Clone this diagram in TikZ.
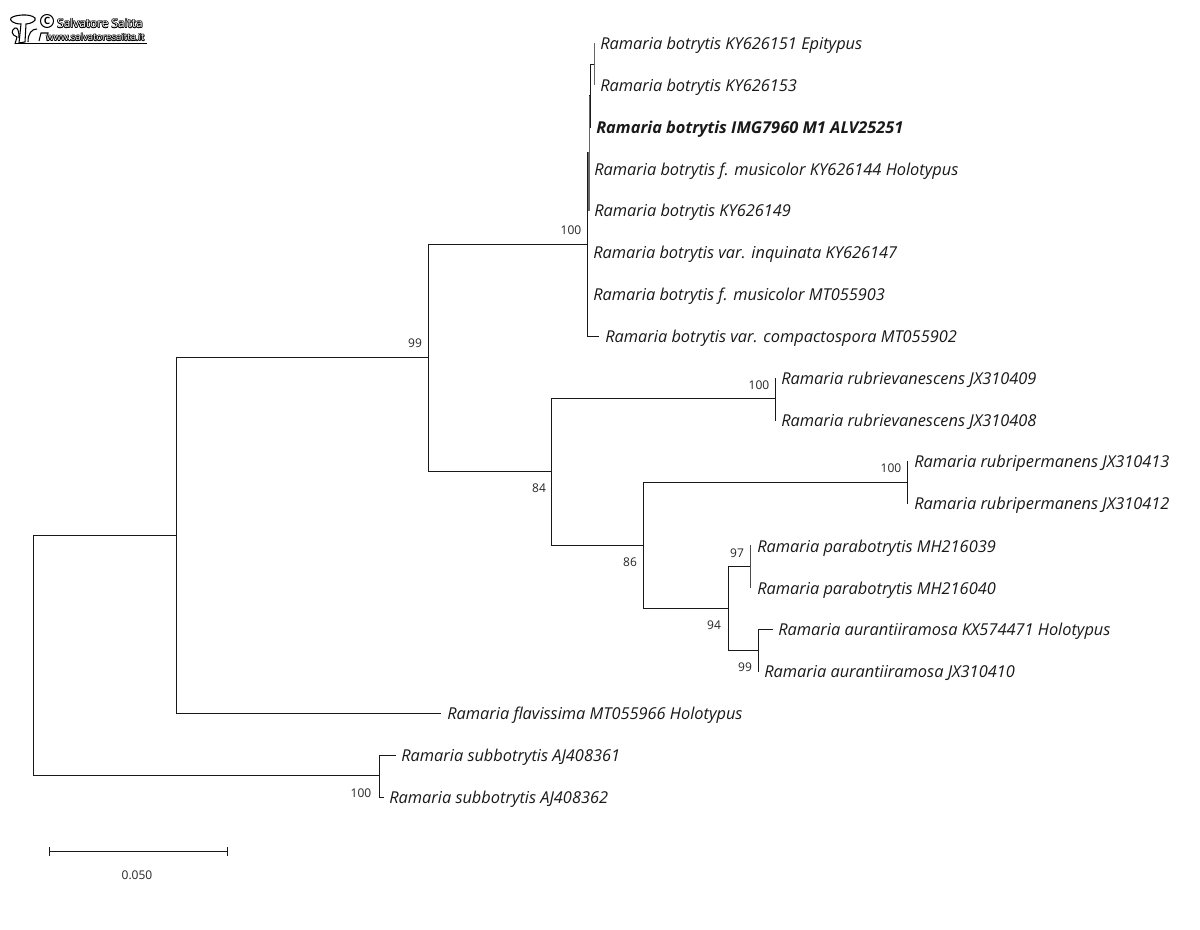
\documentclass[tikz,border=0pt]{standalone}
\usepackage{fontspec}
\setmainfont{Open Sans}
\tikzset{
  branch/.style={draw=black!90,line width=0.75pt,line cap=rect},
  taxon/.style={anchor=west,inner sep=0pt,yshift=-1.5pt,font=\fontsize{12.28pt}{14pt}\selectfont\itshape,text=black!90},
  taxonb/.style={taxon,font=\fontsize{12.28pt}{14pt}\selectfont\itshape\bfseries},
  boot/.style={inner sep=0pt,font=\fontsize{9pt}{11pt}\selectfont,text=black!85},
  logoring/.style={inner sep=0pt,anchor=base west,text=black},
  logofill/.style={inner sep=0pt,anchor=base west,text=white},
}
\newcommand{\hollowtext}[4]{% x, y, size, text
  \foreach \dx/\dy in {-0.7/0,0.7/0,0/-0.7,0/0.7,-0.5/-0.5,0.5/0.5,-0.5/0.5,0.5/-0.5}
    \node[logoring,font=\fontsize{#3}{#3}\selectfont] at (#1+\dx,#2+\dy) {#4};
  \node[logofill,font=\fontsize{#3}{#3}\selectfont] at (#1,#2) {#4};
}
\begin{document}
\begin{tikzpicture}[x=0.75pt,y=-0.75pt]
\fill[white] (0,0) rectangle (1200,930);
\useasboundingbox (0,0) rectangle (1200,930);
\begin{scope}[shift={(0.5,0.5)}]
% junctions
\coordinate (root) at (33,535);
\coordinate (j176) at (176,535);
\coordinate (j379) at (379,775);
\coordinate (j428) at (428,357);
\coordinate (j587) at (587,244);
\coordinate (j551) at (551,471);
\coordinate (j588) at (588,152);
\coordinate (j589) at (589,95);
\coordinate (j590) at (590,127);
\coordinate (j594) at (590,64);
\coordinate (j775) at (551,398);
\coordinate (j643) at (551,545);
\coordinate (j728) at (643,608);
% tips
\coordinate (t1) at (594,43);
\coordinate (t2) at (594,84);
\coordinate (t4) at (588,168);
\coordinate (t5) at (588,210);
\coordinate (t6) at (587,252);
\coordinate (t7) at (587,294);
\coordinate (t8) at (598,336);
\coordinate (t9) at (775,378);
\coordinate (t10) at (775,420);
\coordinate (t11) at (907,461);
\coordinate (t12) at (907,503);
\coordinate (t13) at (750,545);
\coordinate (t14) at (750,587);
\coordinate (t15) at (772,629);
\coordinate (t16) at (758,671);
\coordinate (t17) at (440,713);
\coordinate (t18) at (395,755);
\coordinate (t19) at (383,797);
% tree
\draw[branch] (j176) -- (root) -- (33,775) -- (j379);
\draw[branch] (t17) -| (j176) |- (j428);
\draw[branch] (j587) -| (j428) |- (j551);
\draw[branch] (t8) -| (j587) -- (587,152) -- (j588);
\draw[branch,draw=black!60] (j588) -- (t5);
\draw[branch,draw=black!60] (589,95) -- (589,210);
\draw[branch] (j589) -- (590,95);
\draw[branch] (590,64) -- (j590);
\draw[branch] (j594) -- (594,64);
\draw[branch,draw=black!60] (t1) -- (t2);
\draw[branch] (t9) -- (t10);
\draw[branch] (j775) -- (j775 -| t9);
\draw[branch] (j775) -- (j643);
\draw[branch] (j551) -- (j551 -| j775);
\draw[branch] (j643) -- (643,545);
\draw[branch] (643,482) -- (j728);
\draw[branch] (643,482) -- (907,482);
\draw[branch] (t11) -- (t12);
\draw[branch] (j728) -- (728,608);
\draw[branch] (728,566) -- (728,650) -- (758,650);
\draw[branch] (728,566) -- (750,566);
\draw[branch,draw=black!70] (t13) -- (t14);
\draw[branch] (t16) -- (758,629) -- (t15);
\draw[branch] (t18) -| (j379) |- (t19);
% scale bar
\coordinate (s1) at (49,851);
\coordinate (s2) at (227,851);
\draw[branch] (s1) -- (s2);
\draw[branch] (49,847) -- (49,855);
\draw[branch] (227,847) -- (227,855);
\end{scope}
% leaf labels
\node[taxon] (n1) at (600,43) {Ramaria botrytis KY626151 Epitypus};
\node[taxon] (n2) at (600,85) {Ramaria botrytis KY626153};
\node[taxonb] (n3) at (596,127) {Ramaria botrytis IMG7960 M1 ALV25251};
\node[taxon] (n4) at (594,169) {Ramaria botrytis f. musicolor KY626144 Holotypus};
\node[taxon] (n5) at (594,210) {Ramaria botrytis KY626149};
\node[taxon] (n6) at (593,252) {Ramaria botrytis var. inquinata KY626147};
\node[taxon] (n7) at (593,294) {Ramaria botrytis f. musicolor MT055903};
\node[taxon] (n8) at (605,336) {Ramaria botrytis var. compactospora MT055902};
\node[taxon] (n9) at (781,378) {Ramaria rubrievanescens JX310409};
\node[taxon] (n10) at (781,420) {Ramaria rubrievanescens JX310408};
\node[taxon] (n11) at (914,461) {Ramaria rubripermanens JX310413};
\node[taxon] (n12) at (914,503) {Ramaria rubripermanens JX310412};
\node[taxon] (n13) at (757,546) {Ramaria parabotrytis MH216039};
\node[taxon] (n14) at (757,588) {Ramaria parabotrytis MH216040};
\node[taxon] (n15) at (778,629) {Ramaria aurantiiramosa KX574471 Holotypus};
\node[taxon] (n16) at (764,671) {Ramaria aurantiiramosa JX310410};
\node[taxon] (n17) at (447,713) {Ramaria flavissima MT055966 Holotypus};
\node[taxon] (n18) at (401,755) {Ramaria subbotrytis AJ408361};
\node[taxon] (n19) at (389,797) {Ramaria subbotrytis AJ408362};
% bootstrap
\node[boot] (b1) at (571,230) {100};
\node[boot] (b2) at (415,343) {99};
\node[boot] (b3) at (539,488) {84};
\node[boot] (b4) at (630,562) {86};
\node[boot] (b5) at (759,385) {100};
\node[boot] (b6) at (891,468) {100};
\node[boot] (b7) at (737,553) {97};
\node[boot] (b8) at (714,625) {94};
\node[boot] (b9) at (745,667) {99};
\node[boot] (b10) at (361,793) {100};
\node[boot] (sl) at (137,875) {0.050};
% logo
\draw[black,line width=0.8pt,fill=white] (21,24) .. controls (13,24) and (9,20) .. (11,18) .. controls (14,15) and (30,13) .. (35,18) .. controls (37,21) and (30,24) .. (26,24) -- (25,42) -- (19,43) -- cycle;
\draw[black,line width=0.8pt,fill=white] (15,44) -- (17,37) .. controls (11,35) and (11,30) .. (15,28) .. controls (18,27) and (19,32) .. (19,38);
\draw[black,line width=0.8pt] (28,42) .. controls (28,33) and (32,29) .. (37,29);
\draw[black,line width=0.8pt,fill=white] (39,41) -- (41,33) -- (48,33) -- (47,41);
\draw[black,line width=1pt] (15,43.5) -- (147,43.5);
\draw[black,line width=0.8pt] (47,21) circle (6.5);
\node[inner sep=0pt,font=\fontsize{7.5pt}{8pt}\selectfont\bfseries] (lc) at (47,21) {C};
\hollowtext{57}{28}{8.9pt}{Salvatore Saitta}
\hollowtext{46}{41}{7.2pt}{www.salvatoresaitta.it}
\end{tikzpicture}
\end{document}
